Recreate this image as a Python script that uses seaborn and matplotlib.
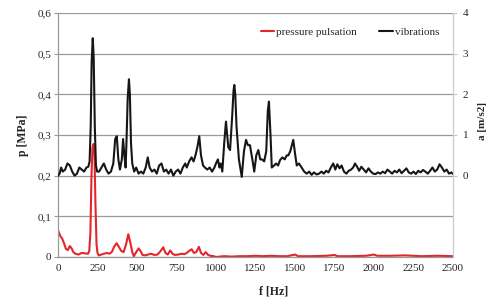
import matplotlib
matplotlib.use('Agg')
import matplotlib.pyplot as plt
import seaborn as sns

# pressure pulsation spectrum [MPa]
p_freq = [0, 8, 17, 27, 38, 50, 62, 75, 88, 97, 110, 130, 150, 170, 190, 198, 205, 212, 218, 225,
          231, 237, 244, 250, 258, 275, 290, 310, 325, 340, 355, 371, 385, 400, 415, 430, 445, 458,
          470, 480, 495, 510, 522, 535, 550, 570, 590, 610, 630, 650, 666, 680, 695, 710, 725, 740,
          760, 780, 800, 815, 830, 846, 860, 875, 892, 905, 920, 935, 950, 965, 985, 1000, 1050,
          1100, 1150, 1200, 1250, 1300, 1350, 1400, 1450, 1500, 1520, 1600, 1700, 1750, 1770, 1850,
          1950, 2000, 2020, 2100, 2200, 2300, 2400, 2500]
p_vals = [0.066, 0.058, 0.05, 0.045, 0.034, 0.02, 0.017, 0.027, 0.02, 0.012, 0.008, 0.006, 0.01,
          0.009, 0.008, 0.015, 0.06, 0.2, 0.268, 0.278, 0.25, 0.13, 0.03, 0.01, 0.004, 0.006, 0.008,
          0.01, 0.008, 0.012, 0.025, 0.034, 0.025, 0.015, 0.012, 0.03, 0.056, 0.035, 0.012, 0.002,
          0.012, 0.021, 0.015, 0.005, 0.004, 0.006, 0.008, 0.005, 0.006, 0.015, 0.024, 0.01, 0.006,
          0.016, 0.008, 0.005, 0.006, 0.008, 0.007, 0.01, 0.015, 0.019, 0.01, 0.012, 0.025, 0.01,
          0.005, 0.012, 0.005, 0.003, 0.002, 0.0, 0.002, 0.001, 0.002, 0.002, 0.003, 0.002, 0.003,
          0.002, 0.002, 0.006, 0.002, 0.002, 0.003, 0.005, 0.002, 0.002, 0.003, 0.006, 0.003, 0.003,
          0.004, 0.002, 0.003, 0.002]

# vibration spectrum [m/s2]
v_freq = [0, 10, 20, 30, 45, 60, 75, 90, 105, 120, 135, 150, 165, 180, 192, 200, 207, 213, 220,
          226, 233, 240, 248, 260, 275, 290, 305, 320, 335, 350, 362, 372, 382, 392, 404, 412, 420,
          428, 434, 441, 449, 455, 462, 470, 482, 495, 510, 525, 540, 555, 568, 580, 595, 610, 625,
          640, 655, 670, 685, 700, 715, 730, 745, 760, 775, 790, 805, 815, 830, 845, 858, 870, 882,
          894, 905, 918, 930, 945, 960, 975, 990, 1000, 1012, 1022, 1030, 1040, 1052, 1063, 1078,
          1089, 1103, 1111, 1116, 1122, 1130, 1145, 1163, 1177, 1190, 1202, 1215, 1230, 1242, 1255,
          1268, 1280, 1292, 1305, 1318, 1328, 1335, 1345, 1353, 1368, 1380, 1393, 1405, 1420, 1435,
          1448, 1458, 1470, 1480, 1489, 1500, 1511, 1525, 1542, 1558, 1574, 1590, 1605, 1620, 1637,
          1652, 1668, 1682, 1697, 1712, 1727, 1742, 1755, 1768, 1782, 1795, 1810, 1825, 1840, 1855,
          1868, 1880, 1893, 1906, 1920, 1935, 1950, 1965, 1980, 1995, 2010, 2025, 2040, 2055, 2070,
          2085, 2100, 2115, 2130, 2145, 2160, 2175, 2190, 2205, 2220, 2235, 2250, 2265, 2280, 2295,
          2310, 2325, 2340, 2355, 2370, 2385, 2400, 2415, 2430, 2445, 2460, 2475, 2490, 2500]
v_vals = [0.0, 0.05, 0.2, 0.1, 0.15, 0.3, 0.25, 0.1, 0.0, 0.05, 0.2, 0.15, 0.1, 0.2, 0.22, 0.35,
          1.2, 2.8, 3.38, 2.9, 1.2, 0.25, 0.1, 0.1, 0.2, 0.3, 0.15, 0.05, 0.1, 0.3, 0.9, 0.97, 0.4,
          0.15, 0.4, 0.9, 0.5, 0.2, 0.9, 1.9, 2.37, 2.0, 0.8, 0.3, 0.1, 0.2, 0.05, 0.1, 0.05, 0.2,
          0.45, 0.2, 0.1, 0.15, 0.05, 0.25, 0.3, 0.1, 0.15, 0.05, 0.15, 0.0, 0.1, 0.15, 0.05, 0.2,
          0.3, 0.2, 0.35, 0.45, 0.35, 0.5, 0.7, 0.97, 0.5, 0.25, 0.2, 0.15, 0.2, 0.1, 0.2, 0.3, 0.4,
          0.2, 0.3, 0.1, 0.8, 1.33, 0.7, 0.63, 1.5, 2.1, 2.23, 2.0, 1.2, 0.4, -0.03, 0.6, 0.88, 0.75,
          0.75, 0.4, 0.1, 0.5, 0.63, 0.4, 0.4, 0.35, 0.6, 1.6, 1.82, 1.0, 0.2, 0.25, 0.3, 0.25, 0.38,
          0.45, 0.4, 0.5, 0.5, 0.6, 0.75, 0.88, 0.55, 0.25, 0.3, 0.2, 0.1, 0.05, 0.1, 0.02, 0.08,
          0.03, 0.05, 0.1, 0.05, 0.12, 0.08, 0.2, 0.3, 0.15, 0.28, 0.18, 0.25, 0.1, 0.05, 0.12, 0.15,
          0.2, 0.3, 0.22, 0.12, 0.22, 0.15, 0.08, 0.18, 0.1, 0.05, 0.04, 0.08, 0.05, 0.1, 0.06,
          0.15, 0.1, 0.05, 0.12, 0.08, 0.15, 0.06, 0.12, 0.18, 0.08, 0.05, 0.1, 0.04, 0.12, 0.08,
          0.14, 0.1, 0.05, 0.12, 0.2, 0.1, 0.15, 0.28, 0.2, 0.1, 0.15, 0.05, 0.08, 0.04]

x_ticks = [0, 250, 500, 750, 1000, 1250, 1500, 1750, 2000, 2250, 2500]
p_ticks = [0, 0.1, 0.2, 0.3, 0.4, 0.5, 0.6]
p_ticklabels = ['0', '0,1', '0,2', '0,3', '0,4', '0,5', '0,6']
a_ticks = [0, 1, 2, 3, 4]

sns.set_theme(style='white')
plt.rcParams['font.family'] = ['Liberation Serif', 'DejaVu Serif']

fig = plt.figure(figsize=(4.9, 3.02), dpi=100)
ax = fig.add_axes([58 / 490, 45 / 302, 395 / 490, 244 / 302])
ax2 = ax.twinx()

red = '#e3262b'
black = '#161616'
grid_c = '#9a9a9a'

sns.lineplot(x=p_freq, y=p_vals, ax=ax, color=red, linewidth=1.5, label='pressure pulsation', legend=False)
sns.lineplot(x=v_freq, y=v_vals, ax=ax2, color=black, linewidth=1.5, label='vibrations', legend=False)

ax.set_xlim(0, 2500)
ax.set_ylim(0, 0.6)
ax2.set_ylim(-2, 4)

ax.set_xticks(x_ticks)
ax.set_xticklabels([str(t) for t in x_ticks], fontsize=8)
ax.set_yticks(p_ticks)
ax.set_yticklabels(p_ticklabels, fontsize=8)
ax2.set_yticks(a_ticks)
ax2.set_yticklabels([str(t) for t in a_ticks], fontsize=8)

ax.yaxis.grid(True, color=grid_c, linewidth=0.9)
ax.xaxis.grid(False)
ax.tick_params(axis='both', which='major', direction='out', length=3, width=0.8, color=grid_c, pad=2)
ax2.tick_params(axis='y', direction='out', length=3, width=0.8, color='#c8c8c8', pad=4)

for s in ['left', 'bottom']:
    ax.spines[s].set_color(grid_c)
    ax.spines[s].set_linewidth(0.9)
ax.spines['top'].set_visible(False)
ax.spines['right'].set_visible(False)
for s in ['left', 'bottom', 'top']:
    ax2.spines[s].set_visible(False)
ax2.spines['right'].set_color('#cccccc')
ax2.spines['right'].set_linewidth(0.9)

ax.set_xlabel('f [Hz]', fontsize=8.5, fontweight='bold', labelpad=6)
ax.xaxis.set_label_coords(0.545, -0.115)
ax.set_ylabel('p [MPa]', fontsize=8.5, fontweight='bold', labelpad=6)
ax2.set_ylabel('')
fig.text(482 / 490, 0.6, 'a [m/s2]', rotation=90, fontsize=8, fontweight='bold',
         ha='center', va='center')

h1, l1 = ax.get_legend_handles_labels()
h2, l2 = ax2.get_legend_handles_labels()
leg = ax2.legend(h1 + h2, l1 + l2, loc='center right', bbox_to_anchor=(0.985, 0.922),
                 ncol=2, frameon=True, fontsize=8, handlelength=1.2, handletextpad=0.2,
                 columnspacing=2.0, borderpad=0.2)
leg.get_frame().set_facecolor('white')
leg.get_frame().set_edgecolor('white')

fig.savefig('out.png', dpi=100)
